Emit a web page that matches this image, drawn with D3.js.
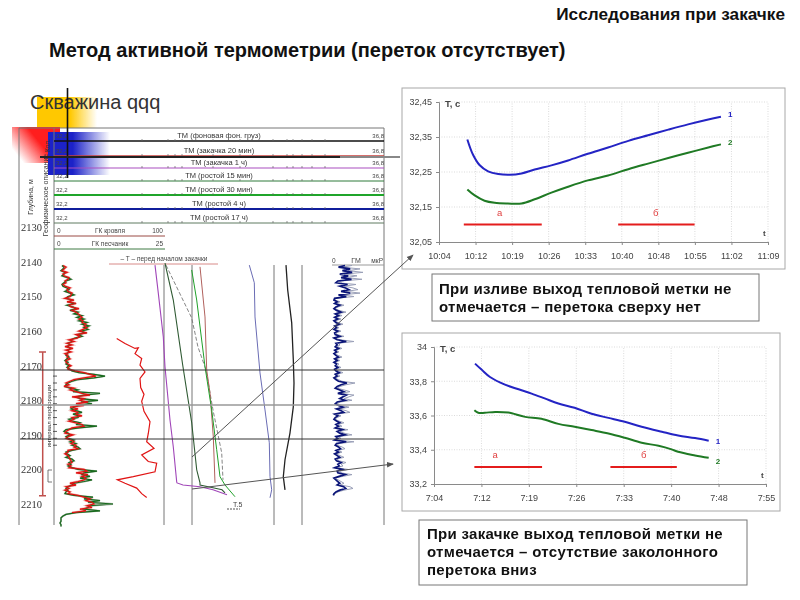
<!DOCTYPE html>
<html lang="ru">
<head>
<meta charset="utf-8">
<title>Метод активной термометрии</title>
<script src="https://cdn.jsdelivr.net/npm/d3@7"></script>
<style>
  html, body { margin: 0; padding: 0; background: #fff; }
  svg { display: block; font-family: "Liberation Sans", Arial, sans-serif; }
  .soft { filter: blur(0.4px); }
  .softer { filter: blur(0.55px); }
  .axis text { fill: #444; font-size: 9px; }
  .axis path, .axis line { stroke: #8a8a8a; }
</style>
</head>
<body>
<svg id="chart" width="800" height="600"></svg>
<script>
'use strict';

// ---- top time chart (излив) ----
const topTimeLabels = ['10:04', '10:12', '10:19', '10:26', '10:33', '10:40', '10:48', '10:55', '11:02', '11:09'];
const topTempTicks = [32.05, 32.15, 32.25, 32.35, 32.45];
const topMinutes1 = [5.6, 6.7, 8.0, 9.7, 11.7, 14.0, 16.3, 18.9, 22.2, 25.5, 29.4, 33.4, 37.4, 41.3, 45.3, 49.2, 53.2, 55.7];
const topTemp1 = [32.343, 32.30, 32.27, 32.252, 32.244, 32.242, 32.246, 32.257, 32.269, 32.283, 32.302, 32.32, 32.339, 32.355, 32.371, 32.386, 32.40, 32.408];
const topMinutes2 = [5.6, 7.05, 9.0, 11.0, 13.6, 16.3, 18.9, 22.2, 25.5, 29.4, 33.4, 37.4, 41.3, 45.3, 49.2, 53.2, 55.7];
const topTemp2 = [32.20, 32.183, 32.168, 32.162, 32.16, 32.16, 32.172, 32.191, 32.208, 32.226, 32.24, 32.258, 32.274, 32.29, 32.305, 32.32, 32.329];
// label, start, end, label position (minutes)
const topIntervals = [['а', 4.9, 20.3, 12], ['б', 35.4, 50.5, 42.8]];

// ---- bottom time chart (закачка) ----
const lowTimeLabels = ['7:04', '7:12', '7:19', '7:26', '7:33', '7:40', '7:48', '7:55'];
const lowTempTicks = [33.2, 33.4, 33.6, 33.8, 34];
const lowMinutes1 = [6.3, 7.3, 8.6, 10.9, 13, 15, 17, 19.1, 21.6, 24.2, 26.8, 29.3, 31.9, 35, 37.5, 40.1, 42.2];
const lowTemp1 = [33.903, 33.868, 33.825, 33.78, 33.753, 33.728, 33.70, 33.67, 33.645, 33.61, 33.586, 33.563, 33.534, 33.505, 33.483, 33.468, 33.452];
const lowMinutes2 = [6.2, 6.8, 7.8, 9.4, 11.4, 14, 16.5, 19.1, 21.6, 24.2, 26.8, 29.3, 31.9, 34.5, 36.5, 37.5, 40.1, 42.2];
const lowTemp2 = [33.631, 33.616, 33.616, 33.621, 33.617, 33.592, 33.581, 33.551, 33.534, 33.515, 33.495, 33.47, 33.441, 33.423, 33.402, 33.388, 33.367, 33.353];
const lowIntervals = [['а', 6.2, 16.6, 9.4], ['б', 27.1, 37.3, 32.2]];

// ---- well log ----
const depthTicks = [2130, 2140, 2150, 2160, 2170, 2180, 2190, 2200, 2210];
const headerNames = ['ТМ (фоновая фон. груз)', 'ТМ (закачка 20 мин)', 'ТМ (закачка 1 ч)', 'ТМ (ростой 15 мин)', 'ТМ (ростой 30 мин)', 'ТМ (ростой 4 ч)', 'ТМ (ростой 17 ч)'];
const headerColors = ['#111', '#c8403c', '#a94fc0', '#2f7a3a', '#1fa52a', '#101e9c', '#5e7a60'];
const headerWidths = [1.5, 1.5, 1.2, 1, 2, 2, 1];
const headerTickMarks = [88, 114, 121, 128, 159, 186, 219, 233, 239, 248, 258, 271];

// ГК, шаг 0,5 м начиная с 2141 м
const gkGreen = [
  8, 10, 9, 7, 11, 10, 8, 13, 17, 12,
  10, 8, 9, 13, 15, 11, 16, 20, 14, 12,
  18, 15, 20, 13, 19, 22, 16, 24, 20, 28,
  23, 30, 25, 33, 28, 35, 30, 34, 27, 31,
  24, 28, 21, 17, 18, 14, 16, 13, 17, 14,
  15, 13, 12, 15, 13, 11, 14, 12, 15, 13,
  16, 18, 25, 40, 51, 40, 24, 18, 14, 12,
  11, 16, 24, 19, 46, 30, 22, 26, 44, 27,
  38, 24, 20, 17, 22, 28, 19, 25, 24, 15,
  18, 26, 22, 43, 25, 12, 10, 14, 16, 12,
  14, 20, 16, 22, 18, 24, 26, 18, 12, 13,
  16, 12, 18, 20, 15, 17, 14, 18, 24, 43,
  30, 28, 36, 26, 38, 30, 20, 18, 14, 12,
  14, 12, 11, 20, 39, 30, 46, 34, 59, 36,
  34, 30, 46, 22, 12, 9, 7, 7, 7, 6,
  7, 7
];
const gkRed = [
  9, 12, 10, 8, 13, 9, 10, 15, 14, 11,
  12, 9, 11, 16, 13, 14, 18, 17, 16, 11,
  20, 13, 22, 15, 17, 25, 18, 22, 24, 26,
  28, 25, 29, 28, 32, 30, 33, 29, 25, 33,
  22, 26, 23, 15, 20, 13, 18, 11, 19, 12,
  17, 11, 14, 13, 16, 12, 12, 14, 17, 14,
  14, 21, 30, 36, 42, 30, 20, 16, 12, 15,
  10, 20, 16, 22, 28, 36, 18, 30, 26, 34,
  22, 30, 16, 24, 18, 24, 22, 28, 18, 20,
  15, 22, 28, 30, 18, 15, 12, 11, 19, 14,
  12, 17, 20, 17, 22, 20, 24, 14, 14, 11,
  14, 15, 16, 17, 18, 14, 17, 15, 30, 33,
  22, 34, 28, 32, 30, 24, 16, 22, 12, 15,
  11, 16, 14, 24, 30, 36, 32, 38, 40, 33,
  38, 26, 32, 18
];
// ГМ (правый трек), шаг 0,5 м начиная с 2141 м
const gmBlue = [
  20, 10, 28, 16, 31, 12, 25, 14, 30, 9,
  6, 24, 12, 21, 26, 14, 28, 10, 22, 4,
  3, 8, 4, 12, 6, 3, 7, 14, 5, 10,
  4, 9, 3, 6, 11, 4, 7, 3, 9, 4,
  5, 12, 3, 8, 22, 6, 8, 5, 10, 4,
  7, 3, 6, 10, 4, 8, 3, 7, 5, 9,
  4, 6, 11, 5, 8, 3, 6, 10, 23, 14,
  8, 5, 12, 18, 9, 22, 17, 12, 20, 8,
  5, 10, 17, 7, 14, 18, 4, 9, 5, 3,
  7, 12, 6, 10, 5, 16, 8, 12, 20, 6,
  9, 4, 22, 7, 5, 10, 13, 6, 10, 4,
  8, 12, 5, 7, 14, 9, 11, 4, 16, 8,
  9, 20, 11, 3, 6, 9, 12, 8, 18, 21,
  12, 6, 3, 2
];

const redWaveDepth = [2162.1, 2163.6, 2165, 2164.8, 2166.5, 2167.9, 2169.8, 2171.8, 2173.7, 2176.3, 2178.3, 2180.3, 2183.2, 2186.2, 2189.6, 2192, 2193.9, 2195.8, 2197.7, 2198.2, 2200.7, 2202.1, 2203, 2204, 2205.4, 2207, 2208.1];
const redWaveValue = [62.7, 71, 81, 84.3, 81, 87.7, 86, 91, 86, 86.7, 90, 87.7, 90, 96, 94.3, 92.7, 100, 87.7, 94.3, 102.7, 101, 79.3, 63.3, 71, 82.7, 87.7, 92.7];
const tempPurpleDepth = [2140.9, 2149, 2161.7, 2170.3, 2185.7, 2193.5, 2203.6, 2203.9, 2204.5, 2205, 2205.9, 2207.3];
const tempPurpleValue = [101, 104.3, 109.3, 111, 116, 119.3, 122.7, 123, 129, 146, 159, 173];
const tempDarkDepth = [2140.3, 2151, 2169.8, 2186.5, 2200.1, 2203.9, 2204.5, 2205.3, 2205.9, 2206.8];
const tempDarkValue = [111, 119.3, 128.7, 137.7, 142.7, 146, 146, 159, 168, 171];
const tempDashDepth = [2140.9, 2156.2, 2164.6, 2171.2, 2182.8, 2195.2, 2203];
const tempDashValue = [112, 137.7, 144, 152, 159, 167.7, 169];
const tempGreenDepth = [2142.3, 2151, 2170.3, 2182.8, 2194.3, 2202.1, 2204.5, 2207.9];
const tempGreenValue = [137.7, 142.7, 151, 157.7, 162.7, 166, 171, 181];
const tempBrownDepth = [2141.4, 2155.9, 2171.2, 2177.9, 2190.6, 2203.9];
const tempBrownValue = [146, 151, 152.7, 156, 159.3, 161];
const tempVioletDepth = [2140.9, 2146, 2155.9, 2172.1, 2182.8, 2192.3, 2202.1, 2205.9, 2208.2];
const tempVioletValue = [195.3, 200.3, 201, 206, 211, 215.3, 216, 217.7, 216];
const tempBlackDepth = [2140.9, 2148.1, 2157.6, 2168.3, 2175, 2181.9, 2189.4, 2197.2, 2202.1, 2205.9];
const tempBlackValue = [232, 233.7, 237.7, 239.3, 240, 239.3, 236, 231, 229.3, 231];
const perforationDepth = [2173, 2175, 2177, 2179, 2181, 2183, 2185, 2187, 2189, 2191, 2193];

const svg = d3.select('#chart');
const defs = svg.append('defs');

function fadeGradient(id, color, x1, y1, x2, y2, stopAt) {
  const g = defs.append('linearGradient').attr('id', id)
    .attr('x1', x1).attr('y1', y1).attr('x2', x2).attr('y2', y2);
  g.append('stop').attr('offset', 0).attr('stop-color', color).attr('stop-opacity', 1);
  g.append('stop').attr('offset', stopAt).attr('stop-color', color).attr('stop-opacity', 1);
  g.append('stop').attr('offset', 1).attr('stop-color', color).attr('stop-opacity', 0);
}
fadeGradient('fadeYellow', '#ffc800', 0, 0, 1, 0, 0.55);
fadeGradient('fadeRed', '#ff1e1e', 1, 0, 0, 0.6, 0.5);
fadeGradient('fadeBlue', '#1c22c8', 0, 0, 1, 0, 0.4);

defs.append('marker').attr('id', 'arrow')
  .attr('viewBox', '0 0 8 8').attr('refX', 7).attr('refY', 4)
  .attr('markerWidth', 7).attr('markerHeight', 7).attr('orient', 'auto')
  .append('path').attr('d', 'M0,0.8L8,4L0,7.2Z').attr('fill', '#555');

// --- titles ---
svg.append('text').attr('x', 785).attr('y', 20).attr('text-anchor', 'end')
  .attr('font-size', 17.2).attr('font-weight', 'bold').attr('fill', '#111').text('Исследования при закачке');
svg.append('text').attr('x', 49).attr('y', 57)
  .attr('font-size', 20).attr('font-weight', 'bold').attr('fill', '#111').text('Метод активной термометрии (переток отсутствует)');

// --- decoration behind the log ---
svg.append('g').attr('class', 'soft').append('rect')
  .attr('x', 37).attr('y', 97).attr('width', 60).attr('height', 31).attr('fill', 'url(#fadeYellow)');
svg.append('text').attr('x', 30).attr('y', 109).attr('font-size', 20).attr('fill', '#333').text('Скважина qqq');

// --- well log ---
const logX = d3.scaleLinear().domain([0, 330]).range([54, 384]);
const depthY = d3.scaleLinear().domain([2140, 2210]).range([262, 504]);
const gmX = d3.scaleLinear().domain([0, 40]).range([332, 372]);

const log = svg.append('g').attr('class', 'softer');

log.append('rect').attr('x', 12).attr('y', 127).attr('width', 48).attr('height', 36).attr('fill', 'url(#fadeRed)');
log.append('rect').attr('x', 48).attr('y', 132).attr('width', 62).attr('height', 43).attr('fill', 'url(#fadeBlue)');

// frame and track lines
log.append('path').attr('d', 'M19,525V128H384').attr('fill', 'none').attr('stroke', '#777').attr('stroke-width', 1);
[0, 110, 138, 220, 248, 330].forEach((v) => {
  log.append('line').attr('x1', logX(v)).attr('x2', logX(v))
    .attr('y1', v === 0 || v === 330 ? 128 : 265).attr('y2', 525)
    .attr('stroke', '#777').attr('stroke-width', 1);
});

// thermometer header rows
const headerY = [141, 156, 168, 181, 195, 209, 223];
const headerRows = log.selectAll('g.header').data(headerNames).join('g').attr('class', 'header');
headerRows.append('line')
  .attr('x1', logX(0)).attr('x2', logX(330))
  .attr('y1', (d, i) => headerY[i]).attr('y2', (d, i) => headerY[i])
  .attr('stroke', (d, i) => headerColors[i]).attr('stroke-width', (d, i) => headerWidths[i]);
headerRows.append('text').attr('x', 219).attr('y', (d, i) => headerY[i] - 3)
  .attr('text-anchor', 'middle').attr('font-size', 7.5).attr('fill', '#333').text((d) => d);
headerRows.append('text').attr('x', 56).attr('y', (d, i) => headerY[i] - 3)
  .attr('font-size', 6).attr('fill', '#444').text('32,2');
headerRows.append('text').attr('x', 384).attr('y', (d, i) => headerY[i] - 3)
  .attr('text-anchor', 'end').attr('font-size', 6).attr('fill', '#444').text('36,8');
headerRows.selectAll('line.mark').data(headerTickMarks).join('line').attr('class', 'mark')
  .attr('x1', (d) => logX(d)).attr('x2', (d) => logX(d))
  .attr('y1', function () { return +this.parentNode.firstChild.getAttribute('y1') - 2; })
  .attr('y2', function () { return +this.parentNode.firstChild.getAttribute('y1'); })
  .attr('stroke', '#666').attr('stroke-width', 0.7);

// ГК scale rows
[[236, '#9a4a44', 'ГК кровля', '100'], [249, '#3f7a44', 'ГК песчаник', '25']].forEach(([y, color, name, right]) => {
  log.append('line').attr('x1', 54).attr('x2', 165).attr('y1', y).attr('y2', y).attr('stroke', color).attr('stroke-width', 1);
  log.append('text').attr('x', 57).attr('y', y - 3).attr('font-size', 6.5).attr('fill', '#444').text('0');
  log.append('text').attr('x', 110).attr('y', y - 3).attr('text-anchor', 'middle').attr('font-size', 6.5).attr('fill', '#444').text(name);
  log.append('text').attr('x', 163).attr('y', y - 3).attr('text-anchor', 'end').attr('font-size', 6.5).attr('fill', '#444').text(right);
});
log.append('line').attr('x1', 109).attr('x2', 218).attr('y1', 264).attr('y2', 264).attr('stroke', '#d88a88').attr('stroke-width', 1);
log.append('text').attr('x', 164).attr('y', 261).attr('text-anchor', 'middle').attr('font-size', 6.5).attr('fill', '#444').text('– T – перед началом закачки');
log.append('line').attr('x1', 332).attr('x2', 384).attr('y1', 265).attr('y2', 265).attr('stroke', '#999').attr('stroke-width', 1);
log.append('text').attr('x', 332).attr('y', 263).attr('font-size', 6.5).attr('fill', '#444').text('0');
log.append('text').attr('x', 356).attr('y', 263).attr('text-anchor', 'middle').attr('font-size', 7).attr('fill', '#444').text('ГМ');
log.append('text').attr('x', 383).attr('y', 263).attr('text-anchor', 'end').attr('font-size', 6.5).attr('fill', '#444').text('мкР');

// depth labels
const depthAxis = log.append('g').attr('transform', 'translate(21,0)')
  .call(d3.axisRight(depthY).tickValues(depthTicks).tickSize(0).tickPadding(0).tickFormat(d3.format('d')));
depthAxis.select('.domain').remove();
depthAxis.selectAll('text').attr('font-family', '"Liberation Serif", serif').attr('font-size', 10.5).attr('fill', '#333');

// rotated column captions
[[33, 197, 'Глубина, м'], [48, 195, 'Геофизическое описание'], [51, 416, 'интервал перфорации']].forEach(([x, y, t], i) => {
  log.append('text').attr('transform', `translate(${x},${y}) rotate(-90)`)
    .attr('text-anchor', 'middle').attr('font-size', i === 2 ? 6 : 7).attr('fill', '#333').text(t);
});
log.append('text').attr('transform', 'translate(50,152) rotate(-90)').attr('font-size', 6.5).attr('fill', '#333').text('Кол.');

// perforation interval bracket
log.append('path').attr('d', `M39,${depthY(2166)}H46M42.7,${depthY(2166)}V${depthY(2207.6)}M39,${depthY(2207.6)}H46`)
  .attr('fill', 'none').attr('stroke', '#c0504d').attr('stroke-width', 1.5);
log.append('path').attr('d', 'M52,470H48V482H52').attr('fill', 'none').attr('stroke', '#555').attr('stroke-width', 0.8);
log.selectAll('line.perf').data(perforationDepth).join('line').attr('class', 'perf')
  .attr('x1', 53).attr('x2', 57).attr('y1', (d) => depthY(d)).attr('y2', (d) => depthY(d))
  .attr('stroke', '#333').attr('stroke-width', 0.8);

// ГК curves
const gkDepth = (i) => 2141 + i * 0.5;
const gkLine = d3.line().x((d) => logX(d)).y((d, i) => depthY(gkDepth(i)));
log.append('path').attr('d', gkLine(gkRed)).attr('fill', 'none').attr('stroke', '#f4b8b4').attr('stroke-width', 2.4);
log.append('path').attr('d', gkLine(gkGreen)).attr('fill', 'none').attr('stroke', '#a9b6a9').attr('stroke-width', 1.8);
log.append('path').attr('d', gkLine(gkGreen)).attr('fill', 'none').attr('stroke', '#176a1c').attr('stroke-width', 1.2);
log.append('path').attr('d', gkLine(gkRed)).attr('fill', 'none').attr('stroke', '#e01212').attr('stroke-width', 1.3);

function drawPairs(depths, values, color, width, dash) {
  const line = d3.line().x((d) => logX(d)).y((d, i) => depthY(depths[i]));
  log.append('path').attr('d', line(values)).attr('fill', 'none')
    .attr('stroke', color).attr('stroke-width', width).attr('stroke-dasharray', dash || null);
}
drawPairs(redWaveDepth, redWaveValue, '#e01414', 1.2);
drawPairs(tempPurpleDepth, tempPurpleValue, '#a045b8', 1.1);
drawPairs(tempDashDepth, tempDashValue, '#777', 0.9, '4 2');
drawPairs(tempBrownDepth, tempBrownValue, '#b0605c', 1);
drawPairs(tempGreenDepth, tempGreenValue, '#20a02a', 1);
drawPairs(tempDarkDepth, tempDarkValue, '#2f5a33', 1.1);
drawPairs(tempVioletDepth, tempVioletValue, '#6a6cb4', 1);
drawPairs(tempBlackDepth, tempBlackValue, '#222', 1.3);

// ГМ curve
const gmLine = d3.line().x((d) => gmX(d)).y((d, i) => depthY(gkDepth(i)));
log.append('path').attr('d', gmLine(gmBlue)).attr('fill', 'none').attr('stroke', '#9aa0b8').attr('stroke-width', 1);
log.append('path').attr('d', gmLine(gmBlue.map((d) => d * 0.65))).attr('fill', 'none').attr('stroke', '#0a1478').attr('stroke-width', 1.7);

log.append('text').attr('x', 233).attr('y', 507).attr('font-size', 7).attr('fill', '#444').text('Т.5');
log.append('line').attr('x1', 227).attr('x2', 240).attr('y1', 509).attr('y2', 509).attr('stroke', '#555').attr('stroke-dasharray', '2 1');

// depth marker lines
[[370, '#333', 1], [405, '#999', 1.6], [439, '#333', 1]].forEach(([y, color, w]) => {
  log.append('line').attr('x1', 20).attr('x2', 384).attr('y1', y).attr('y2', y).attr('stroke', color).attr('stroke-width', w);
});

// black cross
svg.append('line').attr('x1', 67.5).attr('x2', 67.5).attr('y1', 88).attr('y2', 178).attr('stroke', '#111').attr('stroke-width', 1.6);
svg.append('line').attr('x1', 40).attr('x2', 340).attr('y1', 157).attr('y2', 157).attr('stroke', '#222').attr('stroke-width', 1.8);
svg.append('line').attr('x1', 340).attr('x2', 400).attr('y1', 157).attr('y2', 157).attr('stroke', '#888').attr('stroke-width', 1.8);

// --- time charts ---
function drawTimeChart(opt) {
  const box = svg.append('g').attr('class', 'soft');
  box.append('rect').attr('x', opt.box[0]).attr('y', opt.box[1])
    .attr('width', opt.box[2] - opt.box[0]).attr('height', opt.box[3] - opt.box[1])
    .attr('fill', '#fff').attr('stroke', '#a8a8a8').attr('stroke-width', 1);

  const x = d3.scaleLinear().domain([0, opt.span]).range(opt.xRange);
  const y = d3.scaleLinear().domain(d3.extent(opt.yTicks)).range(opt.yRange);
  const xTicks = opt.xLabels.map((d, i) => i * opt.span / (opt.xLabels.length - 1));

  box.append('g').selectAll('line').data(opt.yTicks.slice(1)).join('line')
    .attr('x1', opt.xRange[0]).attr('x2', opt.xRange[1])
    .attr('y1', (d) => y(d)).attr('y2', (d) => y(d))
    .attr('stroke', '#ccc').attr('stroke-width', 0.7).attr('stroke-dasharray', '1 1.5');
  box.append('g').selectAll('line').data(xTicks.slice(1)).join('line')
    .attr('x1', (d) => x(d)).attr('x2', (d) => x(d))
    .attr('y1', opt.yRange[0]).attr('y2', opt.yRange[1])
    .attr('stroke', '#ccc').attr('stroke-width', 0.7).attr('stroke-dasharray', '1 1.5');

  box.append('g').attr('class', 'axis').attr('transform', `translate(${opt.xRange[0]},0)`)
    .call(d3.axisLeft(y).tickValues(opt.yTicks).tickSize(3).tickPadding(4)
      .tickFormat((d) => opt.yFormat(d).replace('.', ',')));
  box.append('g').attr('class', 'axis').attr('transform', `translate(0,${opt.yRange[0]})`)
    .call(d3.axisBottom(x).tickValues(xTicks).tickSize(3).tickPadding(8)
      .tickFormat((d, i) => opt.xLabels[i]));

  const line = (xs) => d3.line().curve(d3.curveCatmullRom).x((d, i) => x(xs[i])).y((d) => y(d));
  box.append('path').attr('d', line(opt.m1)(opt.t1)).attr('fill', 'none').attr('stroke', '#2424c4').attr('stroke-width', 2);
  box.append('path').attr('d', line(opt.m2)(opt.t2)).attr('fill', 'none').attr('stroke', '#1f7a24').attr('stroke-width', 2);

  opt.intervals.forEach(([name, a, b, at]) => {
    box.append('line').attr('x1', x(a)).attr('x2', x(b)).attr('y1', y(opt.barAt)).attr('y2', y(opt.barAt))
      .attr('stroke', '#e41c1c').attr('stroke-width', 2);
    box.append('text').attr('x', x(at)).attr('y', y(opt.barAt) - 9)
      .attr('text-anchor', 'middle').attr('font-size', 9.5).attr('fill', '#e04040').text(name);
  });

  box.append('text').attr('x', opt.xRange[0] + opt.unitDx).attr('y', opt.yRange[1] + 5)
    .attr('font-size', 9.5).attr('font-weight', 'bold').attr('fill', '#444').text('T, c');
  box.append('text').attr('x', opt.xRange[1] - 5).attr('y', opt.yRange[0] - 6)
    .attr('font-size', 8).attr('font-weight', 'bold').attr('fill', '#444').text('t');
  box.append('text').attr('x', x(opt.m1[opt.m1.length - 1]) + 7).attr('y', y(opt.t1[opt.t1.length - 1]) + opt.numDy1)
    .attr('font-size', 8).attr('font-weight', 'bold').attr('fill', '#2424c4').text('1');
  box.append('text').attr('x', x(opt.m2[opt.m2.length - 1]) + 7).attr('y', y(opt.t2[opt.t2.length - 1]) + opt.numDy2)
    .attr('font-size', 8).attr('font-weight', 'bold').attr('fill', '#1f7a24').text('2');
}

drawTimeChart({
  box: [402, 88, 785, 269], xRange: [439, 768], yRange: [242, 102], span: 65,
  xLabels: topTimeLabels, yTicks: topTempTicks, yFormat: d3.format('.2f'),
  m1: topMinutes1, t1: topTemp1, m2: topMinutes2, t2: topTemp2,
  intervals: topIntervals, barAt: 32.1, unitDx: 6, numDy1: 0, numDy2: 1
});
drawTimeChart({
  box: [402, 333, 780, 511], xRange: [434, 766], yRange: [484, 347], span: 51,
  xLabels: lowTimeLabels, yTicks: lowTempTicks, yFormat: (d) => (d === 34 ? '34' : d3.format('.1f')(d)),
  m1: lowMinutes1, t1: lowTemp1, m2: lowMinutes2, t2: lowTemp2,
  intervals: lowIntervals, barAt: 33.3, unitDx: 6, numDy1: 3, numDy2: 6
});

// --- note boxes ---
function drawNote(rect, lines, baselines, textX) {
  const g = svg.append('g').attr('class', 'soft');
  g.append('rect').attr('x', rect[0]).attr('y', rect[1]).attr('width', rect[2] - rect[0]).attr('height', rect[3] - rect[1])
    .attr('fill', '#fff').attr('stroke', '#777').attr('stroke-width', 1);
  g.selectAll('text').data(lines).join('text').attr('x', textX).attr('y', (d, i) => baselines[i])
    .attr('font-size', 15).attr('font-weight', 'bold').attr('letter-spacing', 0.3).attr('fill', '#111').text((d) => d);
}
drawNote([432, 274, 759, 321], ['При изливе выход тепловой метки не', 'отмечается – перетока сверху нет'], [294, 312], 439);
drawNote([419, 520, 747, 585], ['При закачке выход тепловой метки не', 'отмечается – отсутствие заколонного', 'перетока вниз'], [539, 557, 575], 427);

// --- arrows from the log to the charts ---
const arrows = svg.append('g').attr('class', 'soft');
arrows.append('line').attr('x1', 192).attr('y1', 457).attr('x2', 413).attr('y2', 255)
  .attr('stroke', '#555').attr('stroke-width', 1).attr('marker-end', 'url(#arrow)');
arrows.append('line').attr('x1', 192).attr('y1', 489).attr('x2', 393).attr('y2', 464)
  .attr('stroke', '#555').attr('stroke-width', 1).attr('marker-end', 'url(#arrow)');
</script>
</body>
</html>
